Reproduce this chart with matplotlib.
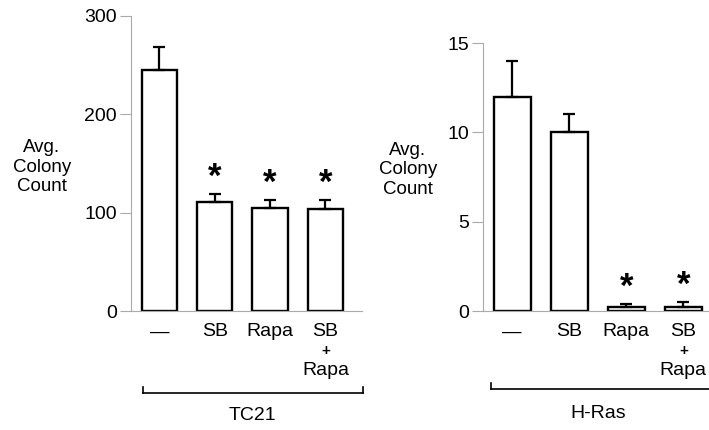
import matplotlib
matplotlib.use("Agg")
import matplotlib.pyplot as plt
from matplotlib.lines import Line2D

plt.rcParams['font.family'] = ['Liberation Sans', 'DejaVu Sans']

# ---- data ----
categories = ["\u2014", "SB", "Rapa", "SB"]
tc21_values = [245, 111, 105, 104]
tc21_errors = [23, 8, 8, 9]
tc21_sig = [False, True, True, True]
hras_values = [12.0, 10.0, 0.2, 0.2]
hras_errors = [2.0, 1.0, 0.2, 0.3]
hras_sig = [False, False, True, True]
tc21_yticks = [0, 100, 200, 300]
hras_yticks = [0, 5, 10, 15]
group_labels = ["TC21", "H-Ras"]
ylabel = "Avg.\nColony\nCount"

W, H = 709, 430
fig = plt.figure(figsize=(W / 100, H / 100), dpi=100)


def px_axes(x0, x1, ytop, ybot):
    return fig.add_axes([x0 / W, (H - ybot) / H, (x1 - x0) / W, (ybot - ytop) / H])


def draw_panel(ax, values, errors, sig, yticks, ylim, xlim, width, star_off):
    x = list(range(len(values)))
    ax.bar(x, values, width=width, color="white", edgecolor="black", linewidth=1.7, zorder=2)
    ax.errorbar(x, values, yerr=[[0] * len(errors), errors], fmt="none", ecolor="black",
                elinewidth=1.6, capsize=4, capthick=1.6, zorder=3)
    for xi, v, e, s in zip(x, values, errors, sig):
        if s:
            ax.annotate("*", (xi, v + e), xytext=(0, star_off), textcoords="offset points",
                        ha="center", va="center", fontsize=25, fontweight="bold")
    ax.set_ylim(*ylim)
    ax.set_xlim(*xlim)
    ax.set_yticks(yticks)
    ax.set_yticklabels([str(t) for t in yticks], fontsize=14)
    ax.tick_params(axis="y", direction="out", length=8, width=0.8, color="#aaaaaa", pad=2)
    ax.set_xticks([])
    for s in ["top", "right"]:
        ax.spines[s].set_visible(False)
    for s in ["left", "bottom"]:
        ax.spines[s].set_color("#aaaaaa")
        ax.spines[s].set_linewidth(0.8)
    ax.patch.set_alpha(0)
    # category labels
    for xi, lab in zip(x, categories):
        ax.annotate(lab, (xi, 0), xytext=(0, -15), textcoords="offset points",
                    ha="center", va="center", fontsize=14)
    ax.annotate("+", (x[-1], 0), xytext=(0, -29), textcoords="offset points",
                ha="center", va="center", fontsize=11, fontweight="bold")
    ax.annotate("Rapa", (x[-1], 0), xytext=(0, -43), textcoords="offset points",
                ha="center", va="center", fontsize=14)


ax1 = px_axes(131, 362, 16, 311)
draw_panel(ax1, tc21_values, tc21_errors, tc21_sig, tc21_yticks, (0, 300),
           (-0.51, 3.66), 0.64, 12)
ax2 = px_axes(483, 709, 43, 311)
draw_panel(ax2, hras_values, hras_errors, hras_sig, hras_yticks, (0, 15),
           (-0.51, 3.45), 0.65, 12)

fig.text(42 / W, 1 - 167 / H, ylabel, ha="center", va="center", fontsize=13.5, linespacing=1.2)
fig.text(408 / W, 1 - 170 / H, ylabel, ha="center", va="center", fontsize=13.5, linespacing=1.2)


def bracket(x0, x1, y, tick_right=True):
    ys = 1 - y / H
    yt = 1 - (y - 6) / H
    fig.add_artist(Line2D([x0 / W, x1 / W], [ys, ys], color="black", lw=1.2))
    fig.add_artist(Line2D([x0 / W, x0 / W], [ys, yt], color="black", lw=1.2))
    if tick_right:
        fig.add_artist(Line2D([x1 / W, x1 / W], [ys, yt], color="black", lw=1.2))


bracket(143, 363, 393)
bracket(491, 712, 389, tick_right=False)
fig.text(252 / W, 1 - 415 / H, group_labels[0], ha="center", va="center", fontsize=14)
fig.text(598 / W, 1 - 413 / H, group_labels[1], ha="center", va="center", fontsize=14)

fig.savefig("out.png", dpi=100)
